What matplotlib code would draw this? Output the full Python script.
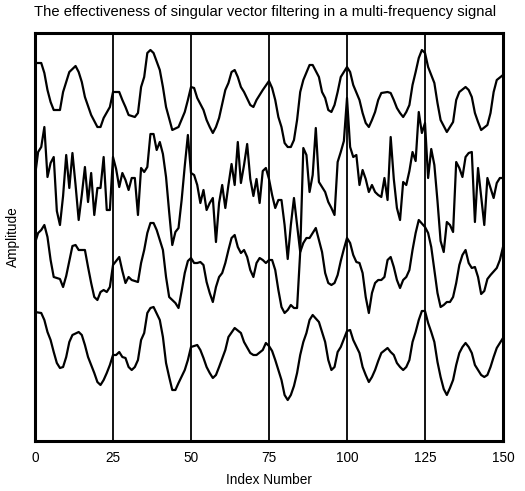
"""Singular vector filtering of a multi-frequency signal: four stacked traces."""

import matplotlib

matplotlib.use("Agg")
import matplotlib.pyplot as plt
import numpy as np

plt.rcParams["font.family"] = ["Liberation Sans", "DejaVu Sans"]

# top trace (smooth), read at its visible vertices
top_idx = [0, 2, 3, 4, 5, 6, 8, 9, 11, 13,
           14, 15, 16, 18, 20, 21, 22, 24, 25, 27,
           28, 29, 30, 32, 33, 34, 35, 36, 37, 38,
           40, 41, 42, 44, 46, 48, 49, 50, 51, 52,
           54, 55, 56, 57, 58, 59, 61, 62, 63, 64,
           65, 66, 67, 69, 70, 71, 73, 75, 76, 77,
           78, 79, 80, 81, 82, 83, 84, 85, 86, 88,
           89, 91, 92, 93, 94, 95, 96, 97, 98, 100,
           101, 102, 104, 105, 106, 107, 108, 109, 110, 111,
           113, 114, 115, 116, 117, 118, 119, 120, 121, 122,
           123, 124, 125, 126, 128, 129, 130, 132, 134, 135,
           136, 138, 139, 140, 141, 142, 143, 145, 146, 147,
           148, 150]
top_amp = [378, 378, 368, 351, 339, 331, 331, 349, 369, 375,
           369, 359, 344, 326, 314, 314, 323, 334, 349, 349,
           341, 334, 326, 324, 328, 354, 364, 388, 391, 388,
           371, 354, 334, 311, 314, 329, 341, 354, 353, 343,
           331, 321, 314, 308, 314, 323, 351, 358, 369, 371,
           364, 354, 349, 336, 334, 341, 351, 360, 353, 341,
           324, 314, 298, 294, 294, 301, 321, 349, 361, 376,
           376, 364, 349, 343, 331, 329, 336, 349, 364, 374,
           369, 356, 341, 328, 318, 314, 321, 329, 341, 348,
           349, 348, 341, 333, 328, 324, 329, 336, 356, 369,
           383, 391, 388, 374, 358, 338, 321, 309, 319, 341,
           349, 354, 351, 344, 328, 319, 311, 316, 328, 349,
           361, 366]

# noisy trace, one value per index 0..150
noisy_amp = [265, 289, 294, 314, 264, 278, 284, 230, 216, 245,
             286, 253, 288, 256, 221, 246, 274, 239, 268, 226,
             253, 253, 284, 231, 231, 284, 272, 254, 268, 261,
             251, 263, 263, 226, 273, 269, 274, 307, 307, 291,
             299, 287, 264, 229, 196, 209, 213, 241, 275, 306,
             268, 266, 256, 238, 251, 231, 238, 243, 199, 238,
             256, 233, 256, 277, 256, 299, 258, 276, 297, 262,
             245, 262, 238, 270, 273, 262, 246, 233, 241, 241,
             216, 182, 216, 243, 216, 189, 293, 286, 249, 266,
             313, 259, 254, 249, 239, 233, 226, 279, 289, 300,
             343, 294, 284, 286, 256, 271, 262, 249, 256, 249,
             246, 244, 263, 241, 304, 262, 233, 221, 259, 256,
             270, 289, 280, 329, 308, 318, 263, 292, 276, 240,
             200, 189, 219, 216, 209, 279, 273, 264, 284, 288,
             289, 219, 273, 245, 216, 263, 253, 243, 258, 263,
             263]

# third trace (partly filtered)
mid_idx = [0, 1, 2, 3, 4, 5, 6, 7, 8, 9,
           10, 11, 12, 13, 14, 16, 17, 18, 19, 20,
           21, 22, 23, 24, 25, 26, 27, 28, 29, 30,
           31, 32, 33, 34, 35, 36, 37, 38, 39, 40,
           41, 42, 43, 44, 45, 46, 47, 48, 49, 50,
           51, 52, 53, 54, 55, 56, 57, 58, 59, 60,
           61, 62, 63, 64, 65, 66, 67, 68, 69, 70,
           71, 72, 73, 74, 75, 76, 77, 78, 79, 80,
           81, 82, 83, 84, 85, 86, 87, 88, 89, 90,
           91, 92, 93, 94, 95, 96, 97, 98, 99, 100,
           101, 102, 103, 104, 105, 106, 107, 108, 109, 110,
           111, 112, 113, 114, 115, 116, 117, 118, 119, 120,
           121, 122, 123, 125, 126, 127, 128, 129, 130, 131,
           132, 133, 134, 135, 136, 137, 138, 139, 140, 141,
           142, 143, 144, 145, 146, 148, 149, 150]
mid_amp = [198, 208, 211, 216, 204, 181, 164, 163, 162, 154,
           165, 180, 195, 196, 191, 191, 174, 158, 144, 141,
           149, 151, 149, 154, 176, 180, 184, 170, 158, 164,
           161, 160, 159, 178, 191, 208, 218, 218, 211, 201,
           191, 164, 144, 141, 138, 133, 150, 168, 180, 183,
           178, 178, 179, 176, 159, 148, 139, 154, 164, 168,
           178, 191, 203, 206, 194, 188, 191, 184, 171, 164,
           178, 183, 181, 178, 181, 181, 171, 151, 134, 128,
           131, 136, 133, 133, 189, 198, 203, 203, 208, 213,
           201, 189, 168, 158, 156, 158, 166, 180, 192, 203,
           198, 186, 179, 178, 168, 144, 128, 148, 158, 161,
           161, 164, 181, 184, 174, 161, 153, 161, 164, 171,
           191, 208, 221, 214, 208, 194, 171, 148, 134, 136,
           139, 139, 144, 158, 176, 186, 191, 178, 173, 174,
           164, 147, 150, 162, 166, 173, 181, 194]

# bottom trace (smooth)
bot_idx = [0, 2, 3, 4, 5, 6, 7, 8, 9, 10,
           11, 12, 14, 15, 16, 17, 18, 19, 20, 21,
           22, 23, 24, 25, 26, 27, 28, 29, 30, 31,
           32, 33, 34, 35, 36, 37, 38, 40, 41, 42,
           43, 44, 45, 46, 48, 49, 50, 52, 53, 54,
           55, 56, 57, 58, 59, 61, 62, 64, 66, 67,
           69, 70, 71, 73, 74, 75, 76, 77, 78, 79,
           80, 81, 82, 83, 84, 85, 86, 87, 88, 89,
           91, 92, 93, 94, 95, 96, 97, 98, 100, 101,
           102, 104, 105, 106, 107, 108, 109, 110, 111, 113,
           114, 115, 116, 117, 118, 119, 120, 121, 122, 123,
           124, 125, 126, 127, 128, 129, 130, 131, 132, 133,
           134, 135, 136, 137, 138, 139, 140, 141, 142, 143,
           144, 145, 146, 147, 148, 150]
bot_amp = [129, 128, 121, 109, 101, 89, 78, 73, 74, 84,
           99, 106, 109, 106, 96, 84, 76, 68, 59, 56,
           61, 68, 76, 86, 86, 89, 84, 83, 74, 71,
           74, 81, 101, 108, 128, 133, 134, 121, 104, 78,
           64, 51, 51, 58, 71, 81, 94, 96, 91, 83,
           74, 68, 63, 66, 74, 91, 104, 113, 108, 99,
           88, 86, 86, 91, 98, 95, 90, 81, 71, 61,
           46, 41, 46, 55, 68, 86, 99, 108, 121, 126,
           119, 109, 99, 81, 71, 74, 89, 94, 110, 111,
           101, 88, 74, 66, 59, 64, 71, 80, 88, 93,
           89, 86, 78, 74, 71, 74, 81, 99, 109, 121,
           130, 130, 118, 109, 99, 79, 64, 52, 46, 53,
           61, 76, 88, 94, 98, 94, 88, 76, 71, 66,
           64, 66, 74, 84, 93, 103]

x_ticks = [0, 25, 50, 75, 100, 125, 150]

fig = plt.figure(figsize=(5.25, 4.91), dpi=100)
ax = fig.add_axes([35 / 525, 50 / 491, 468 / 525, 408 / 491])

line_kw = dict(color="black", lw=1.6, solid_joinstyle="round")
ax.plot(top_idx, top_amp, **line_kw)
ax.plot(np.arange(len(noisy_amp)), noisy_amp, **line_kw)
ax.plot(mid_idx, mid_amp, **line_kw)
ax.plot(bot_idx, bot_amp, **line_kw)

ax.set_xlim(0, 150)
ax.set_ylim(0, 408)
ax.set_xticks(x_ticks)
ax.set_yticks([])
ax.tick_params(axis="x", length=0, pad=7, labelsize=9.8)
ax.grid(axis="x", color="black", lw=1.3)
ax.set_axisbelow(True)
for spine in ax.spines.values():
    spine.set_linewidth(2.2)

ax.set_xlabel("Index Number", fontsize=9.8, labelpad=6)
ax.set_ylabel("Amplitude", fontsize=9.8, labelpad=11)
fig.text(0.505, 0.976, "The effectiveness of singular vector filtering in a multi-frequency signal",
         ha="center", va="center", fontsize=10.6)

fig.savefig("out.png", dpi=100)
